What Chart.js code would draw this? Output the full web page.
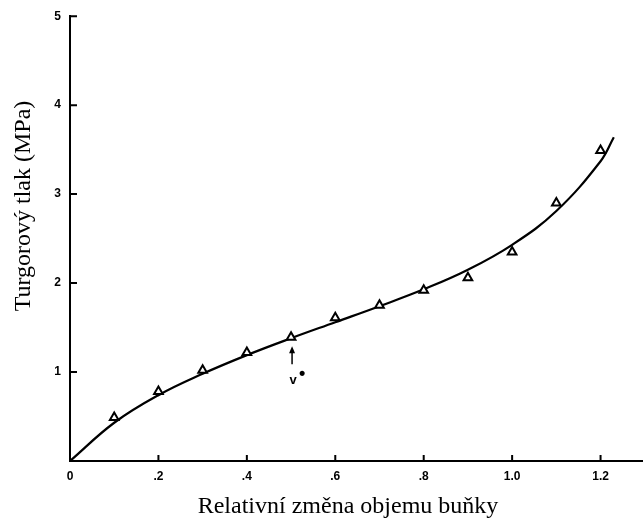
<!DOCTYPE html>
<html>
<head>
<meta charset="utf-8">
<script src="https://cdn.jsdelivr.net/npm/chart.js@4/dist/chart.umd.min.js"></script>
<style>
  html, body { margin: 0; padding: 0; background: #fff; }
  #wrap { width: 643px; height: 520px; }
</style>
</head>
<body>
<div id="wrap"><canvas id="chart" width="643" height="520"></canvas></div>
<script>
// measured points (triangles)
const volumeChange = [0.1, 0.2, 0.3, 0.4, 0.5, 0.6, 0.7, 0.8, 0.9, 1.0, 1.1, 1.2]
const pressure = [0.49, 0.78, 1.02, 1.22, 1.39, 1.61, 1.75, 1.92, 2.06, 2.35, 2.90, 3.49]
// fitted curve
const fitX = [0, 0.1, 0.2, 0.3, 0.4, 0.5, 0.6, 0.7, 0.8, 0.9, 1.0, 1.1, 1.2, 1.23]
const fitY = [0, 0.43, 0.74, 0.98, 1.19, 1.38, 1.56, 1.74, 1.93, 2.15, 2.43, 2.81, 3.37, 3.64]
const xTicks = [0, 0.2, 0.4, 0.6, 0.8, 1.0, 1.2]
const xTickLabels = ["0", ".2", ".4", ".6", ".8", "1.0", "1.2"]
const yTicks = [1, 2, 3, 4, 5]
const vStar = {x: 0.5, y: 1.39, label: "v"}
const xTitle = "Relativní změna objemu buňky"
const yTitle = "Turgorový tlak (MPa)"

const tickFont = {family: "'Liberation Sans', Arial, sans-serif", size: 12, weight: "bold"}
const titleFont = "24px 'Liberation Serif', 'Times New Roman', serif"

const extras = {
    id: "extras",
    afterDraw(chart) {
        const ctx = chart.ctx
        const xs = chart.scales.x
        const ys = chart.scales.y
        const area = chart.chartArea
        ctx.save()
        ctx.strokeStyle = "#000"
        ctx.lineWidth = 2
        // inward tick marks
        ctx.beginPath()
        xTicks.slice(1).forEach(v => {
            const px = xs.getPixelForValue(v)
            ctx.moveTo(px, area.bottom)
            ctx.lineTo(px, area.bottom - 6)
        })
        yTicks.forEach(v => {
            const py = ys.getPixelForValue(v)
            ctx.moveTo(area.left, py)
            ctx.lineTo(area.left + 7, py)
        })
        ctx.stroke()

        // v* arrow
        const ax = xs.getPixelForValue(vStar.x)
        const ay = ys.getPixelForValue(vStar.y)
        ctx.lineWidth = 1.5
        ctx.beginPath()
        ctx.moveTo(ax + 1, ay + 27)
        ctx.lineTo(ax + 1, ay + 12)
        ctx.stroke()
        ctx.fillStyle = "#000"
        ctx.beginPath()
        ctx.moveTo(ax + 1, ay + 9)
        ctx.lineTo(ax - 2, ay + 16)
        ctx.lineTo(ax + 4, ay + 16)
        ctx.closePath()
        ctx.fill()
        ctx.font = "bold 13px 'Liberation Sans', Arial, sans-serif"
        ctx.textAlign = "center"
        ctx.textBaseline = "middle"
        ctx.fillText(vStar.label, ax + 2, ay + 43)
        ctx.font = "bold 18px 'Liberation Sans', Arial, sans-serif"
        ctx.fillText("•", ax + 11, ay + 37)

        // axis titles
        ctx.font = titleFont
        ctx.fillText(xTitle, 348, 507)
        ctx.translate(24, 206)
        ctx.rotate(-Math.PI / 2)
        ctx.fillText(yTitle, 0, 0)
        ctx.restore()
    }
}

new Chart(document.getElementById("chart"), {
    type: "scatter",
    plugins: [extras],
    data: {
        datasets: [
            {
                label: "fit",
                data: fitX.map((x, i) => ({x: x, y: fitY[i]})),
                showLine: true,
                borderColor: "#000",
                borderWidth: 2.2,
                pointRadius: 0,
                tension: 0.4,
                order: 2,
            },
            {
                label: "measured",
                data: volumeChange.map((x, i) => ({x: x, y: pressure[i]})),
                pointStyle: "triangle",
                pointRadius: 5,
                pointBackgroundColor: "#fff",
                pointBorderColor: "#000",
                pointBorderWidth: 2,
                order: 1,
            },
        ],
    },
    options: {
        responsive: false,
        animation: false,
        layout: {autoPadding: false, padding: {top: 16, left: 0, right: 0, bottom: 0}},
        plugins: {
            legend: {display: false},
            tooltip: {enabled: false},
        },
        scales: {
            x: {
                type: "linear",
                min: 0,
                max: 1.296,
                afterBuildTicks: (s) => { s.ticks = xTicks.map(v => ({value: v})) },
                afterFit: (s) => { s.height = 59; s.paddingRight = 0; s.paddingLeft = 0 },
                grid: {display: true, drawOnChartArea: false, drawTicks: false},
                border: {display: true, color: "#000", width: 2},
                ticks: {
                    color: "#000",
                    font: tickFont,
                    padding: 8,
                    maxRotation: 0,
                    callback: (v) => xTickLabels[xTicks.indexOf(v)],
                },
            },
            y: {
                type: "linear",
                min: 0,
                max: 5,
                afterBuildTicks: (s) => { s.ticks = yTicks.map(v => ({value: v})) },
                afterFit: (s) => { s.width = 70 },
                grid: {display: true, drawOnChartArea: false, drawTicks: false},
                border: {display: true, color: "#000", width: 2},
                ticks: {
                    color: "#000",
                    font: tickFont,
                    padding: 9,
                },
            },
        },
    },
})
</script>
</body>
</html>
